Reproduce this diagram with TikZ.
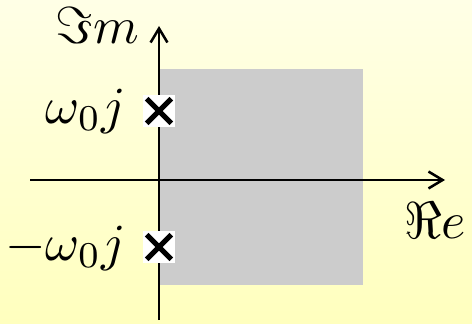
\documentclass[tikz,border=0pt]{standalone}
\usepackage{amsmath}
\usepackage{amssymb}
\usepackage{xcolor}
\usetikzlibrary{arrows.meta, positioning}

\definecolor{bgtop}{RGB}{255,255,230}
\definecolor{bgbot}{RGB}{255,255,190}
\tikzset{
	axis/.style={line width=0.9pt, -{Straight Barb[length=5pt,width=6pt]}},
	lbl/.style={scale=1.85, inner sep=0pt},
	pole/.style={fill=white, minimum size=0.4cm, inner sep=0pt,
		path picture={
			\draw[line width=1.8pt]
				([shift={(1.3pt,-1.3pt)}]path picture bounding box.north west) --
				([shift={(-1.3pt,1.3pt)}]path picture bounding box.south east);
			\draw[line width=1.8pt]
				([shift={(1.3pt,1.3pt)}]path picture bounding box.south west) --
				([shift={(-1.3pt,-1.3pt)}]path picture bounding box.north east);
		}}
}

\begin{document}
\begin{tikzpicture}[scale=0.5]
	\shade[top color=bgtop, bottom color=bgbot] (-3.975,-3.575) rectangle (7.825,4.5);
	\useasboundingbox (-3.975,-3.575) rectangle (7.825,4.5);
	
	\fill[black!20] (0,-2.625) rectangle (5.1,2.775);
	
	\coordinate (xstart) at (-3.225,0);
	\coordinate (xend) at (7.15,0);
	\coordinate (ystart) at (0,-3.5);
	\coordinate (yend) at (0,3.85);
	
	\draw[axis] (xstart) -- (xend);
	\draw[axis] (ystart) -- (yend);
	
	\node[pole] (upper) at (0,1.725) {};
	\node[pole] (lower) at (0,-1.675) {};
	
	\node[lbl, anchor=base east] (imlabel) at (-0.475,3.4) {$\Im m$};
	\node[lbl, anchor=base east] (uplabel) at (-0.8,1.425) {$\omega_0 j$};
	\node[lbl, anchor=base east] (lowlabel) at (-0.8,-2.0) {$-\omega_0 j$};
	\node[lbl, anchor=base east] (relabel) at (7.7,-1.45) {$\Re e$};
\end{tikzpicture}
\end{document}
